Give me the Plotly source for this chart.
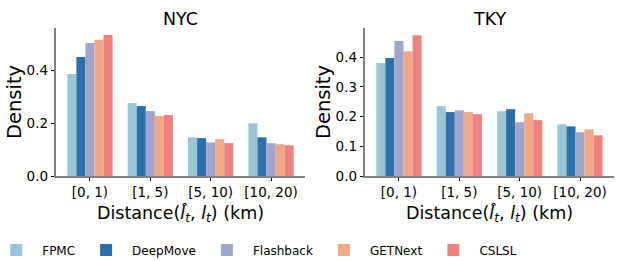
import plotly.graph_objects as go

categories = ["[0, 1)", "[1, 5)", "[5, 10)", "[10, 20)"]
models = ["FPMC", "DeepMove", "Flashback", "GETNext", "CSLSL"]
colors = ["#9AC5D7", "#2B70AA", "#A0A6CB", "#F0A886", "#EE8282"]

nyc_fpmc = [0.385, 0.275, 0.146, 0.199]
nyc_deepmove = [0.449, 0.264, 0.143, 0.146]
nyc_flashback = [0.502, 0.245, 0.127, 0.124]
nyc_getnext = [0.514, 0.226, 0.139, 0.120]
nyc_cslsl = [0.532, 0.230, 0.124, 0.116]

tky_fpmc = [0.380, 0.235, 0.218, 0.174]
tky_deepmove = [0.397, 0.215, 0.225, 0.167]
tky_flashback = [0.454, 0.221, 0.181, 0.147]
tky_getnext = [0.420, 0.215, 0.211, 0.157]
tky_cslsl = [0.474, 0.208, 0.188, 0.137]

nyc_ticks = [0.0, 0.2, 0.4]
tky_ticks = [0.0, 0.1, 0.2, 0.3, 0.4]

nyc = [nyc_fpmc, nyc_deepmove, nyc_flashback, nyc_getnext, nyc_cslsl]
tky = [tky_fpmc, tky_deepmove, tky_flashback, tky_getnext, tky_cslsl]

FONT = "DejaVu Sans"
fig = go.Figure()
xpos = list(range(len(categories)))
for i, m in enumerate(models):
    fig.add_trace(go.Bar(x=xpos, y=nyc[i], name=m, marker_color=colors[i],
                         marker_line_width=0, xaxis="x", yaxis="y",
                         offsetgroup=str(i), legendgroup=m))
    fig.add_trace(go.Bar(x=xpos, y=tky[i], name=m, marker_color=colors[i],
                         marker_line_width=0, xaxis="x2", yaxis="y2",
                         offsetgroup=str(i), legendgroup=m, showlegend=False))

W, H = 628, 261
y0, y1 = 1 - 176 / H, 1 - 28 / H
xtitle = "Distance(<i>l̂</i><sub><i>t</i></sub>, <i>l</i><sub><i>t</i></sub>) (km)"

axis_common = dict(showline=True, linecolor="#808080", linewidth=1.5,
                   ticks="outside", tickcolor="black", ticklen=3.5, tickwidth=1,
                   showgrid=False, zeroline=False, automargin=False,
                   tickfont=dict(family=FONT, size=13.5, color="black"))

fig.update_layout(
    width=W, height=H,
    margin=dict(l=0, r=0, t=0, b=0, autoexpand=False),
    paper_bgcolor="white", plot_bgcolor="white",
    font=dict(family=FONT, color="black"),
    barmode="group", bargap=0.25, bargroupgap=0,
    xaxis=dict(domain=[56 / W, 305 / W], anchor="y", range=[-0.5625, 3.5625],
               tickvals=xpos, ticktext=categories,
               title=dict(text=xtitle, font=dict(family=FONT, size=17.5), standoff=7),
               **axis_common),
    yaxis=dict(domain=[y0, y1], anchor="x", range=[0, 0.5586],
               tickvals=nyc_ticks, tickformat=".1f",
               title=dict(text="Density", font=dict(family=FONT, size=19.5), standoff=0),
               **axis_common),
    xaxis2=dict(domain=[365 / W, 614 / W], anchor="y2", range=[-0.5625, 3.5625],
                tickvals=xpos, ticktext=categories,
                title=dict(text=xtitle, font=dict(family=FONT, size=17.5), standoff=7),
                **axis_common),
    yaxis2=dict(domain=[y0, y1], anchor="x2", range=[0, 0.498],
                tickvals=tky_ticks, tickformat=".1f",
                title=dict(text="Density", font=dict(family=FONT, size=19.5), standoff=0),
                **axis_common),
    legend=dict(orientation="h", x=0.408, xanchor="center", y=1 - 250 / H, yanchor="middle",
                font=dict(family=FONT, size=12), traceorder="normal", itemwidth=42,
                bgcolor="rgba(0,0,0,0)"),
    annotations=[
        dict(text="NYC", x=180.5 / W, y=1 - 19 / H, xref="paper", yref="paper",
             showarrow=False, xanchor="center", yanchor="middle",
             font=dict(family=FONT, size=17.5)),
        dict(text="TKY", x=489.5 / W, y=1 - 19 / H, xref="paper", yref="paper",
             showarrow=False, xanchor="center", yanchor="middle",
             font=dict(family=FONT, size=17.5)),
    ],
)

fig.write_html("out.html", config={"displayModeBar": False},
               post_script="document.body.style.margin='0';document.body.style.padding='0';")
